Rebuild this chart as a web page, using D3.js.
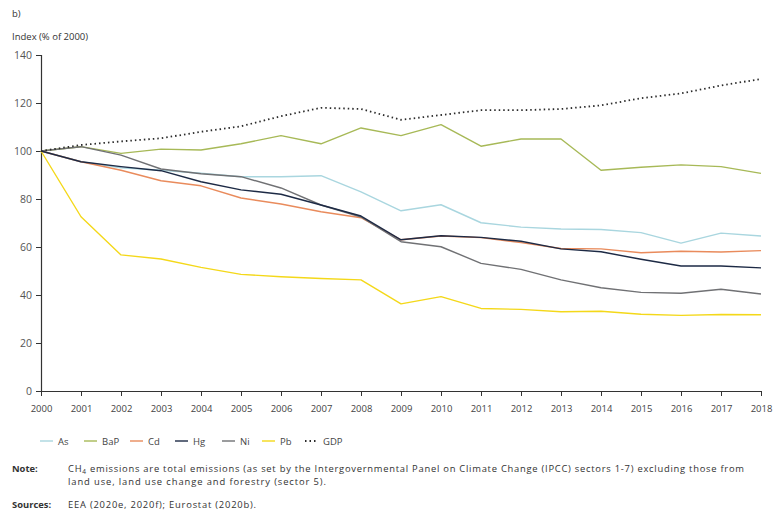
<!DOCTYPE html>
<html>
<head>
<meta charset="utf-8">
<script src="https://cdn.jsdelivr.net/npm/d3@7"></script>
<style>
  html, body { margin: 0; padding: 0; background: #fff; }
  svg { display: block; font-family: "Open Sans", "Noto Sans", sans-serif; }
</style>
</head>
<body>
<svg id="chart" width="774" height="511"></svg>
<script>
// Years on the x axis
const years = d3.range(2000, 2019);

// Emission indices, % of 2000
const asValues  = [100, 95.5, 93, 92, 90.7, 89.3, 89.3, 89.7, 83, 75.1, 77.6, 70.1, 68.3, 67.5, 67.3, 66, 61.6, 65.8, 64.6];
const bapValues = [100, 101.8, 99, 100.8, 100.4, 103, 106.4, 103, 109.6, 106.4, 111, 102, 105, 105, 92, 93.2, 94.2, 93.5, 90.7];
const cdValues  = [100, 95.5, 92, 87.6, 85.5, 80.4, 77.9, 74.7, 72.2, 63, 64.6, 63.9, 61.8, 59.4, 59.2, 57.6, 58.2, 57.9, 58.5];
const hgValues  = [100, 95.5, 93.5, 91.8, 87.2, 83.8, 82, 77.5, 72.9, 63, 64.7, 64, 62.4, 59.2, 58, 54.9, 52.1, 52.1, 51.3];
const niValues  = [100, 101.8, 98.3, 92.5, 90.5, 89.3, 84.6, 77.5, 72.5, 62.2, 60.1, 53.2, 50.7, 46.3, 43, 41.1, 40.7, 42.4, 40.4];
const pbValues  = [100, 72.6, 56.7, 55, 51.5, 48.6, 47.6, 46.9, 46.3, 36.3, 39.3, 34.4, 34, 33, 33.2, 32, 31.5, 31.9, 31.8];
const gdpValues = [100, 102.5, 104, 105.3, 108, 110.3, 114.5, 118, 117.5, 113, 115, 117, 117, 117.5, 119, 122, 124, 127.3, 130];

const yTicks = [0, 20, 40, 60, 80, 100, 120, 140];

const series = [
  { name: "As",  values: asValues,  color: "#a9d6df", dash: null },
  { name: "BaP", values: bapValues, color: "#a7b957", dash: null },
  { name: "Cd",  values: cdValues,  color: "#e98b5c", dash: null },
  { name: "Hg",  values: hgValues,  color: "#1d2a45", dash: null },
  { name: "Ni",  values: niValues,  color: "#707174", dash: null },
  { name: "Pb",  values: pbValues,  color: "#f4d819", dash: null },
  { name: "GDP", values: gdpValues, color: "#2b2b2b", dash: "1.5,3" }
];

const svg = d3.select("#chart");
const x = d3.scaleLinear().domain([2000, 2018]).range([41, 761]);
const y = d3.scaleLinear().domain([0, 140]).range([391, 55]);

// Headings
svg.append("text").attr("x", 12).attr("y", 17).attr("font-size", 9.5).attr("fill", "#333").text("b)");
svg.append("text").attr("x", 12).attr("y", 40).attr("font-size", 9.5).attr("fill", "#333").text("Index (% of 2000)");

// Y axis
const yAxis = svg.append("g").attr("transform", "translate(41,0)")
  .call(d3.axisLeft(y).tickValues(yTicks).tickSize(5).tickPadding(4));
yAxis.select(".domain").attr("stroke", "#333").attr("stroke-width", 1.2);
yAxis.selectAll(".tick line").attr("stroke", "#333");
yAxis.selectAll(".tick text").attr("font-size", 10.5).attr("fill", "#555").attr("font-family", "Open Sans, sans-serif");

// X axis
const xAxis = svg.append("g").attr("transform", "translate(0,391)")
  .call(d3.axisBottom(x).tickValues(years).tickFormat(d3.format("d")).tickSize(5).tickSizeOuter(0).tickPadding(9));
xAxis.select(".domain").attr("stroke", "#333").attr("stroke-width", 1.2);
xAxis.selectAll(".tick line").attr("stroke", "#333");
xAxis.selectAll(".tick text").attr("font-size", 9.5).attr("fill", "#444").attr("font-family", "Open Sans, sans-serif");

// Lines
const line = d3.line().x((d, i) => x(years[i])).y(d => y(d));
const drawOrder = ["As", "BaP", "Cd", "Pb", "Ni", "Hg", "GDP"];
drawOrder.forEach(n => {
  const s = series.find(t => t.name === n);
  svg.append("path")
    .datum(s.values)
    .attr("fill", "none")
    .attr("stroke", s.color)
    .attr("stroke-width", s.dash ? 1.8 : 1.4)
    .attr("stroke-dasharray", s.dash)
    .attr("stroke-linejoin", "round")
    .attr("d", line);
});

// Legend
const legendX = [40, 84, 130, 175, 222, 262, 305];
const legend = svg.append("g").attr("transform", "translate(0,441)");
series.forEach((s, i) => {
  const g = legend.append("g").attr("transform", `translate(${legendX[i]},0)`);
  g.append("line").attr("x1", 0).attr("x2", 13).attr("y1", 0).attr("y2", 0)
    .attr("stroke", s.color).attr("stroke-width", s.dash ? 1.8 : 1.4)
    .attr("stroke-dasharray", s.dash);
  g.append("text").attr("x", 18).attr("y", 3.5).attr("font-size", 9.5).attr("fill", "#444").text(s.name);
});

// Note and sources (spread to the full text block width)
const note = svg.append("g").attr("font-size", 9.4).attr("fill", "#333");
note.append("text").attr("x", 12).attr("y", 472).attr("font-weight", "bold").text("Note:");
const t1 = note.append("text").attr("x", 68).attr("y", 472)
  .attr("textLength", 676).attr("lengthAdjust", "spacing");
t1.append("tspan").text("CH");
t1.append("tspan").attr("font-size", 6.5).attr("dy", 1.5).text("4");
t1.append("tspan").attr("dy", -1.5).text(" emissions are total emissions (as set by the Intergovernmental Panel on Climate Change (IPCC) sectors 1-7) excluding those from");
note.append("text").attr("x", 68).attr("y", 485)
  .attr("textLength", 258).attr("lengthAdjust", "spacing")
  .text("land use, land use change and forestry (sector 5).");
note.append("text").attr("x", 12).attr("y", 508).attr("font-weight", "bold").text("Sources:");
note.append("text").attr("x", 68).attr("y", 508)
  .attr("textLength", 188).attr("lengthAdjust", "spacing")
  .text("EEA (2020e, 2020f); Eurostat (2020b).");
</script>
</body>
</html>
